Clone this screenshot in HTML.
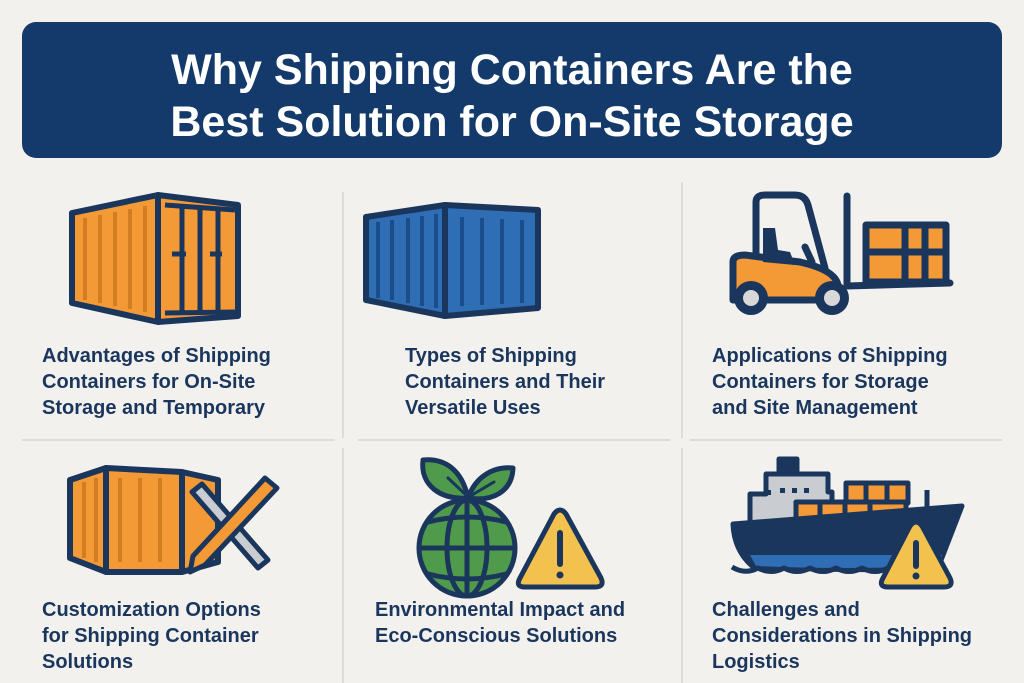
<!DOCTYPE html>
<html><head><meta charset="utf-8"><style>
html,body{margin:0;padding:0;background:#f2f1ee;}
svg{display:block}
text{font-family:"Liberation Sans",sans-serif;font-weight:bold}
</style></head><body>
<svg width="1024" height="683" viewBox="0 0 1024 683" xmlns="http://www.w3.org/2000/svg">
<rect width="1024" height="683" fill="#f2f1ee"/>
<rect x="22" y="22" width="980" height="136" rx="14" fill="#143a6b"/>
<text x="512" y="84" text-anchor="middle" fill="#fff" font-size="43">Why Shipping Containers Are the</text>
<text x="512" y="136" text-anchor="middle" fill="#fff" font-size="43">Best Solution for On-Site Storage</text>
<g stroke="#d6d5d1" stroke-width="1.5">
<line x1="343" y1="192" x2="343" y2="438"/><line x1="682" y1="182" x2="682" y2="438"/>
<line x1="343" y1="448" x2="343" y2="683"/><line x1="682" y1="448" x2="682" y2="683"/>
<line x1="22" y1="440" x2="335" y2="440"/><line x1="358" y1="440" x2="670" y2="440"/><line x1="690" y1="440" x2="1002" y2="440"/>
</g>
<!-- orange container -->
<g stroke="#1b365d" stroke-width="6" stroke-linejoin="round">
<polygon points="72,213 158,195 158,322 72,303" fill="#f39a37"/>
<polygon points="158,195 238,205 238,316 158,322" fill="#f39a37"/>
</g>
<g stroke="#d27d22" stroke-width="4">
<line x1="85" y1="218" x2="85" y2="300"/><line x1="100" y1="215" x2="100" y2="303"/><line x1="115" y1="212" x2="115" y2="306"/><line x1="130" y1="209" x2="130" y2="309"/><line x1="145" y1="206" x2="145" y2="312"/>
</g>
<g stroke="#1b365d" stroke-width="5">
<line x1="182" y1="205" x2="182" y2="312"/><line x1="200" y1="207" x2="200" y2="312"/><line x1="218" y1="210" x2="218" y2="312"/>
<line x1="165" y1="205" x2="235" y2="210"/><line x1="165" y1="313" x2="235" y2="312"/>
<line x1="172" y1="254" x2="186" y2="254"/><line x1="210" y1="254" x2="222" y2="254"/>
</g>
<!-- blue container -->
<g stroke="#1b365d" stroke-width="6" stroke-linejoin="round">
<polygon points="366,217 445,205 445,316 366,300" fill="#2f6eb5"/>
<polygon points="445,205 538,210 538,308 445,316" fill="#2f6eb5"/>
</g>
<g stroke="#1b4d8a" stroke-width="4">
<line x1="378" y1="222" x2="378" y2="298"/><line x1="392" y1="220" x2="392" y2="300"/><line x1="408" y1="218" x2="408" y2="303"/><line x1="422" y1="216" x2="422" y2="306"/><line x1="436" y1="214" x2="436" y2="308"/>
<line x1="462" y1="217" x2="462" y2="306"/><line x1="482" y1="218" x2="482" y2="305"/><line x1="502" y1="219" x2="502" y2="304"/><line x1="522" y1="220" x2="522" y2="303"/>
</g>
<!-- forklift -->
<g stroke="#1b365d" stroke-width="7" stroke-linejoin="round" stroke-linecap="round">
<path d="M756,258 L756,202 Q756,195 765,195 L795,195 Q805,195 808,205 L825,268" fill="none"/>
<line x1="847" y1="196" x2="847" y2="286"/>
<line x1="847" y1="286" x2="950" y2="283"/>
<rect x="866" y="225" width="80" height="57" fill="#f39a37"/>
<line x1="866" y1="252" x2="946" y2="252"/><line x1="905" y1="225" x2="905" y2="282"/><line x1="925" y1="225" x2="925" y2="282"/>
<path d="M733,262 Q733,255 745,255 L800,262 Q835,270 838,285 L838,300 L733,300 Z" fill="#f39a37"/>
<line x1="805" y1="247" x2="812" y2="262"/>
</g>
<path d="M763,228 L775,228 L778,250 L790,252 L795,265 L763,262 Z" fill="#1b365d"/>
<circle cx="751" cy="298" r="17" fill="#1b365d"/><circle cx="751" cy="298" r="8" fill="#d8d8d8"/>
<circle cx="832" cy="298" r="17" fill="#1b365d"/><circle cx="832" cy="298" r="8" fill="#d8d8d8"/>
<!-- custom container -->
<g stroke="#1b365d" stroke-width="6" stroke-linejoin="round">
<polygon points="70,480 106,468 106,572 70,558" fill="#f39a37"/>
<polygon points="106,468 182,472 182,572 106,572" fill="#f39a37"/>
<polygon points="182,472 218,480 218,562 182,572" fill="#f39a37"/>
</g>
<g stroke="#d27d22" stroke-width="4">
<line x1="84" y1="482" x2="84" y2="558"/><line x1="96" y1="478" x2="96" y2="562"/><line x1="120" y1="478" x2="120" y2="562"/><line x1="140" y1="478" x2="140" y2="562"/><line x1="160" y1="478" x2="160" y2="562"/>
</g>
<g stroke="#1b365d" stroke-width="5" stroke-linejoin="round">
<polygon points="192,492 202,484 268,560 258,568" fill="#c9ccd0"/>
<polygon points="265,478 277,488 205,565 190,572 193,556" fill="#f39a37"/>
</g>
<!-- globe -->
<g stroke="#1b365d" stroke-width="5" stroke-linejoin="round" stroke-linecap="round">
<path d="M468,498 C462,470 445,458 423,460 C420,485 440,500 468,498 Z" fill="#4f9a4b"/>
<path d="M468,498 C475,478 492,466 513,468 C512,492 492,502 468,498 Z" fill="#4f9a4b"/>
<line x1="448" y1="478" x2="466" y2="495" stroke-width="3"/>
<line x1="494" y1="482" x2="472" y2="495" stroke-width="3"/>
<circle cx="467" cy="548" r="48" fill="#4f9a4b"/>
<ellipse cx="467" cy="548" rx="20" ry="48" fill="none"/>
<line x1="467" y1="500" x2="467" y2="596"/>
<path d="M428,522 Q467,512 506,522" fill="none"/><line x1="419" y1="548" x2="515" y2="548"/><path d="M428,574 Q467,584 506,574" fill="none"/>
<path d="M554,514 Q560,506 566,514 L601,578 Q605,587 595,587 L525,587 Q515,587 520,578 Z" fill="#f2c14e"/>
</g>
<line x1="560" y1="533" x2="560" y2="564" stroke="#1b365d" stroke-width="6" stroke-linecap="round"/>
<circle cx="560" cy="575" r="3.5" fill="#1b365d"/>
<!-- ship -->
<g stroke="#1b365d" stroke-width="5" stroke-linejoin="round">
<rect x="779" y="459" width="18" height="14" fill="#1b365d"/>
<path d="M766,474 L828,474 L828,492 L832,492 L832,528 L750,528 L750,494 L766,494 Z" fill="#c9ccd0"/>
<rect x="846" y="483" width="62" height="20" fill="#f39a37"/>
<rect x="796" y="502" width="110" height="26" fill="#f39a37"/>
<line x1="866" y1="483" x2="866" y2="503"/><line x1="887" y1="483" x2="887" y2="503"/>
<line x1="820" y1="502" x2="820" y2="528"/><line x1="845" y1="502" x2="845" y2="528"/><line x1="870" y1="502" x2="870" y2="528"/>
<line x1="927" y1="490" x2="927" y2="508"/>
<path d="M733,524 L962,506 L938,568 Q840,572 752,566 Q734,550 733,524 Z" fill="#1b365d"/>
<path d="M750,555 L942,555 L938,566 Q840,570 756,566 Z" fill="#2f6eb5" stroke="none"/>
<path d="M732,567 Q745,575 758,568 Q771,575 784,568 Q797,575 810,568 Q823,575 836,568 Q849,575 862,568 Q875,575 888,568" fill="none"/>
<path d="M910,526 Q916,518 922,526 L950,578 Q954,587 944,587 L888,587 Q878,587 883,578 Z" fill="#f2c14e"/>
</g>
<g fill="#1b365d"><rect x="766" y="490" width="5" height="5"/><rect x="780" y="488" width="5" height="5"/><rect x="792" y="488" width="5" height="5"/><rect x="804" y="488" width="5" height="5"/></g>
<line x1="916" y1="543" x2="916" y2="566" stroke="#1b365d" stroke-width="6" stroke-linecap="round"/>
<circle cx="916" cy="576" r="3.5" fill="#1b365d"/>
<!-- labels -->
<g fill="#1b365d" font-size="20">
<text x="42" y="362">Advantages of Shipping</text>
<text x="42" y="388">Containers for On-Site</text>
<text x="42" y="414">Storage and Temporary</text>
<text x="405" y="362">Types of Shipping</text>
<text x="405" y="388">Containers and Their</text>
<text x="405" y="414">Versatile Uses</text>
<text x="712" y="362">Applications of Shipping</text>
<text x="712" y="388">Containers for Storage</text>
<text x="712" y="414">and Site Management</text>
<text x="42" y="616">Customization Options</text>
<text x="42" y="642">for Shipping Container</text>
<text x="42" y="668">Solutions</text>
<text x="375" y="616">Environmental Impact and</text>
<text x="375" y="642">Eco-Conscious Solutions</text>
<text x="712" y="616">Challenges and</text>
<text x="712" y="642">Considerations in Shipping</text>
<text x="712" y="668">Logistics</text>
</g>
</svg>
</body></html>
